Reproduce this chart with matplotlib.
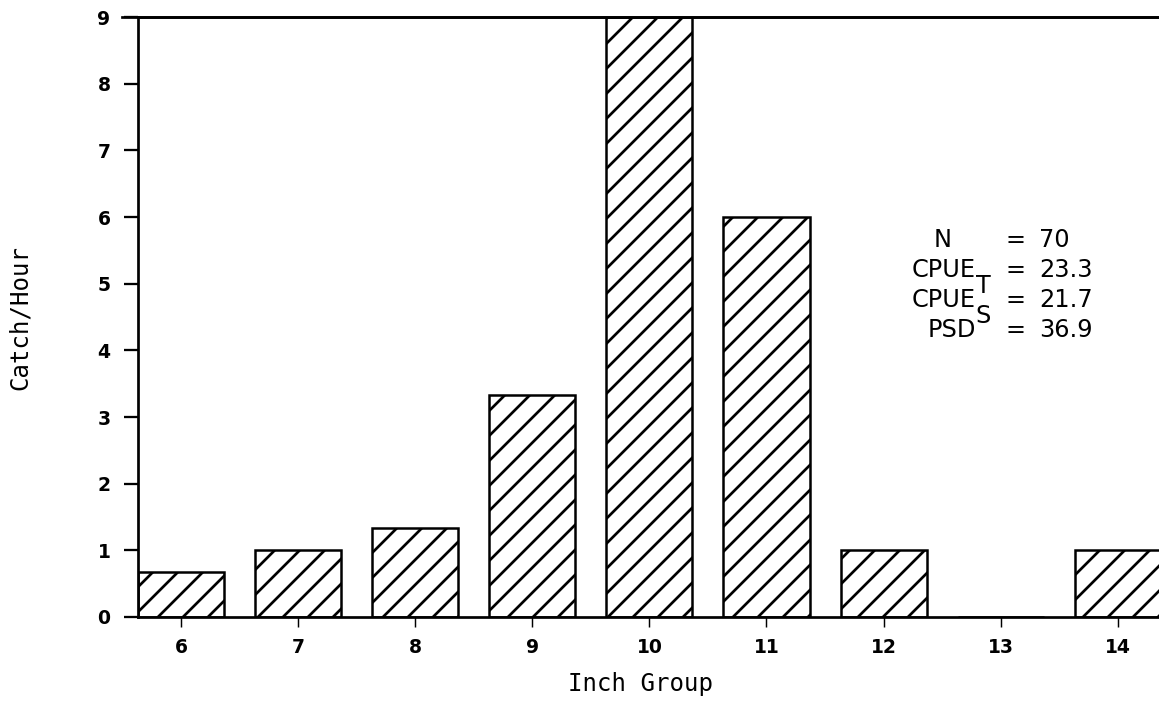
import matplotlib
matplotlib.use("Agg")
import matplotlib.pyplot as plt


# =========================
# Data: catch per hour by inch group
# =========================

inch_groups = [6, 7, 8, 9, 10, 11, 12, 13, 14]
catch_per_hour = [0.67, 1.0, 1.33, 3.33, 9.0, 6.0, 1.0, 0.0, 1.0]

stat_names = ["N", "CPUE", "CPUE", "PSD"]
stat_subs = ["", "T", "S", ""]
stat_values = ["70", "23.3", "21.7", "36.9"]


# =========================
# Figure layout (pixels -> figure fractions)
# =========================

W, H, DPI = 1159, 708, 150
plt.rcParams["hatch.linewidth"] = 1.3

fig = plt.figure(figsize=(W / DPI, H / DPI), dpi=DPI)

ax_left, ax_right = 138, 1159
ax_top, ax_bottom = 17, 617
ax = fig.add_axes([
    ax_left / W,
    1 - ax_bottom / H,
    (ax_right - ax_left) / W,
    (ax_bottom - ax_top) / H,
])

ax.bar(
    inch_groups,
    catch_per_hour,
    width=0.735,
    facecolor="white",
    edgecolor="black",
    linewidth=1.2,
    hatch="//",
    zorder=2,
)

ax.set_xlim(5.633, 14.352)
ax.set_ylim(0, 9)

ax.set_xticks(inch_groups)
ax.set_yticks(range(0, 10))

ax.spines["right"].set_visible(False)
for side in ["left", "top", "bottom"]:
    ax.spines[side].set_linewidth(1.3)

ax.tick_params(axis="y", direction="out", length=6.7, width=1.1, pad=6.5)
ax.tick_params(axis="x", direction="out", length=4.8, width=0.7, pad=5.5)

for lab in ax.get_xticklabels() + ax.get_yticklabels():
    lab.set_fontfamily("DejaVu Sans")
    lab.set_fontweight("bold")
    lab.set_fontsize(9)

# top line reaches past the spine like the tick marks do
ax.plot([-0.016, 1.0], [1.0, 1.0], transform=ax.transAxes, color="black",
        linewidth=1.3, clip_on=False)

label_font = dict(family="DejaVu Sans Mono", fontsize=11.5)
fig.text(640 / W, 1 - 684 / H, "Inch Group", ha="center", va="center",
         **label_font)
fig.text(20 / W, 1 - 317 / H, "Catch/Hour", ha="center", va="center",
         rotation=90, **label_font)

# summary statistics block
stat_font = dict(family="DejaVu Sans", fontsize=11.5)
row_y = [240, 270, 300, 330]
for name, sub, val, y in zip(stat_names, stat_subs, stat_values, row_y):
    name_x = 952 if name == "N" else 976
    fig.text(name_x / W, 1 - y / H, name, ha="right", va="center", **stat_font)
    if sub:
        fig.text(983 / W, 1 - (y + 16) / H, sub, ha="center", va="center",
                 **stat_font)
    fig.text(1015 / W, 1 - y / H, "=", ha="center", va="center", **stat_font)
    fig.text(1039 / W, 1 - y / H, val, ha="left", va="center", **stat_font)

fig.savefig("out.png", dpi=DPI, facecolor="white")
